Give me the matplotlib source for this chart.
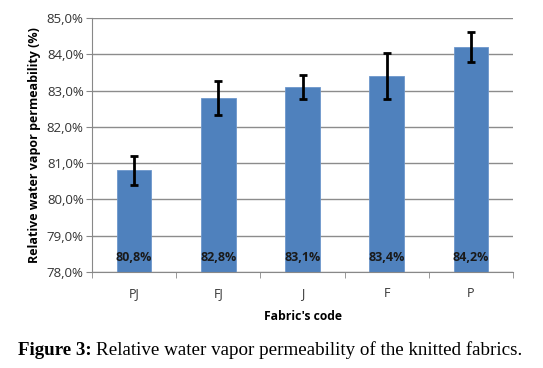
import matplotlib.pyplot as plt
import numpy as np

# fabric codes and measured relative water vapour permeability (%)
codes = ["PJ", "FJ", "J", "F", "P"]
values = [80.8, 82.8, 83.1, 83.4, 84.2]
errors = [0.41, 0.46, 0.34, 0.63, 0.42]
labels = ["80,8%", "82,8%", "83,1%", "83,4%", "84,2%"]
yticks = [78, 79, 80, 81, 82, 83, 84, 85]

plt.rcParams['font.family'] = ['Open Sans', 'DejaVu Sans']

fig = plt.figure(figsize=(5.43, 3.68), dpi=100)
ax = fig.add_axes([92/543, 96/368, 421/543, 254/368])

x = np.arange(len(codes))
ax.bar(x, values, width=0.41, color="#4f81bd", edgecolor="#6d97cc", linewidth=0.6,
       bottom=0, zorder=2)
ax.errorbar(x, values, yerr=errors, fmt="none", ecolor="black", elinewidth=2,
            capsize=3, capthick=2, zorder=3)
for xi, lab in zip(x, labels):
    ax.text(xi, 78.4, lab, ha="center", va="center", fontsize=9,
            fontweight="bold", color="#1a1a1a", zorder=4)

ax.set_ylim(78, 85)
ax.set_xlim(-0.5, len(codes) - 0.5)
ax.set_yticks(yticks)
ax.set_yticklabels(["%d,0%%" % t for t in yticks], fontsize=9.5, color="#333333")
ax.set_xticks(x)
ax.set_xticklabels(codes, fontsize=9, color="#333333")
ax.set_xticks(np.arange(len(codes) + 1) - 0.5, minor=True)
ax.tick_params(axis="x", which="major", length=0, pad=11)
ax.tick_params(axis="x", which="minor", length=4, color="#888888")
ax.tick_params(axis="y", length=4, color="#888888", pad=2)
ax.yaxis.grid(True, color="#8c8c8c", linewidth=1, zorder=0)
ax.set_axisbelow(True)
for s in ["top", "right"]:
    ax.spines[s].set_visible(False)
for s in ["left", "bottom"]:
    ax.spines[s].set_color("#888888")
ax.set_ylabel("Relative water vapor permeability (%)", fontsize=9,
              fontweight="bold", labelpad=4)
ax.set_xlabel("Fabric's code", fontsize=8.7, fontweight="bold", labelpad=7)

t1 = fig.text(18/543, 13/368, "Figure 3:", family="Liberation Serif",
              fontweight="bold", fontsize=13.7, va="baseline")
fig.canvas.draw()
bb = t1.get_window_extent()
fig.text((bb.x1 + 4)/543, 13/368, "Relative water vapor permeability of the knitted fabrics.",
         family="Liberation Serif", fontsize=13.7, va="baseline")

plt.savefig("out.png", dpi=100)
